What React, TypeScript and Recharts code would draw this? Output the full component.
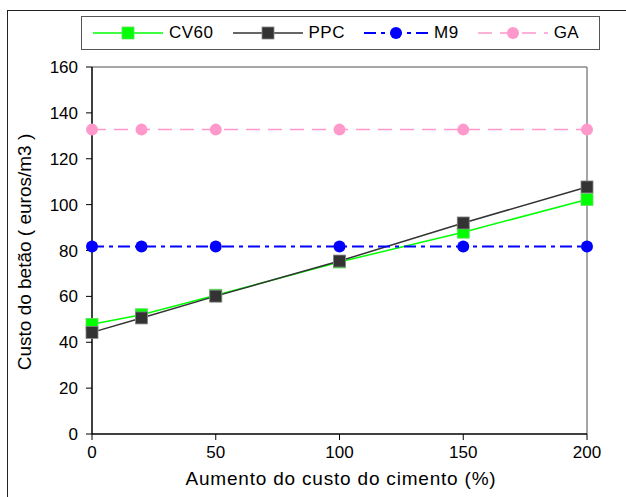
import React from 'react';
import { LineChart, Line, XAxis, YAxis, ReferenceLine } from 'recharts';

const xValues = [0, 20, 50, 100, 150, 200];
const cv60 = [47.8, 52, 60.5, 75, 88, 102.2];
const ppc = [44.3, 50.6, 60.1, 75.4, 92, 107.7];
const m9 = [81.7, 81.7, 81.7, 81.7, 81.7, 81.7];
const ga = [132.7, 132.7, 132.7, 132.7, 132.7, 132.7];
const seriesNames = ['CV60', 'PPC', 'M9', 'GA'];
const xTicks = [0, 50, 100, 150, 200];
const yTicks = [0, 20, 40, 60, 80, 100, 120, 140, 160];
const xTitle = 'Aumento do custo do cimento (%)';
const yTitle = 'Custo do betão ( euros/m3 )';

const data = xValues.map((x, i) => ({ x, CV60: cv60[i], PPC: ppc[i], M9: m9[i], GA: ga[i] }));

const FONT = '"Liberation Sans", Arial, sans-serif';

const styles: Record<string, { color: string; fill: string; dash?: string; width: number; marker: 'square' | 'circle'; stroke?: string; legendLen: number }> = {
  CV60: { color: '#00FF00', fill: '#00FF00', width: 1.5, marker: 'square', stroke: '#66dd66', legendLen: 70 },
  PPC: { color: '#333333', fill: '#333333', width: 1.5, marker: 'square', stroke: '#888888', legendLen: 70 },
  M9: { color: '#0000FF', fill: '#0000FF', dash: '12 5 4 5', width: 2, marker: 'circle', legendLen: 64 },
  GA: { color: '#FF99CC', fill: '#FF99CC', dash: '14 8', width: 1.5, marker: 'circle', legendLen: 70 },
};

const makeDot = (name: string) => (props: any) => {
  const { cx, cy, index } = props;
  const s = styles[name];
  if (cx == null || cy == null) return <g key={`${name}-${index}`} />;
  if (s.marker === 'square') {
    return (
      <rect key={`${name}-${index}`} x={cx - 6} y={cy - 6} width={12} height={12} fill={s.fill} stroke={s.stroke} strokeWidth={0.8} />
    );
  }
  return <circle key={`${name}-${index}`} cx={cx} cy={cy} r={6} fill={s.fill} />;
};

const LegendBox = () => (
  <div
    style={{
      position: 'absolute',
      left: 81,
      top: 16,
      width: 506,
      height: 32,
      border: '1.5px solid #555',
      background: '#fff',
      display: 'flex',
      alignItems: 'center',
      fontFamily: FONT,
      fontSize: 17,
      color: '#000',
      paddingLeft: 11,
      boxSizing: 'content-box',
    }}
  >
    {seriesNames.map((name, i) => {
      const s = styles[name];
      return (
        <div key={name} style={{ display: 'flex', alignItems: 'center', marginLeft: i === 0 ? 0 : 19 }}>
          <svg width={s.legendLen} height={16} style={{ display: 'block' }}>
            <line x1={0} y1={8} x2={s.legendLen} y2={8} stroke={s.color} strokeWidth={s.width} strokeDasharray={s.dash} />
            {s.marker === 'square' ? (
              <rect x={s.legendLen / 2 - 6} y={2} width={12} height={12} fill={s.fill} stroke={s.stroke} strokeWidth={0.8} />
            ) : (
              <circle cx={s.legendLen / 2} cy={8} r={6} fill={s.fill} />
            )}
          </svg>
          <span style={{ marginLeft: 6, letterSpacing: 0.5 }}>{name}</span>
        </div>
      );
    })}
  </div>
);

export default function App() {
  return (
    <div style={{ position: 'absolute', left: 0, top: 0, width: 626, height: 497, background: '#fff', overflow: 'hidden' }}>
      <div
        style={{
          position: 'absolute',
          left: 7,
          top: 10,
          width: 700,
          height: 600,
          border: '1.5px solid #222',
        }}
      />
      <div style={{ position: 'absolute', left: 0, top: 0 }}>
        <LineChart width={626} height={497} data={data} margin={{ top: 67, right: 39, left: 0, bottom: 0 }}>
          <XAxis
            dataKey="x"
            type="number"
            domain={[0, 200]}
            ticks={xTicks}
            height={63}
            axisLine={{ stroke: '#000', strokeWidth: 1.5 }}
            tickLine={{ stroke: '#000' }}
            tickSize={6}
            tickMargin={6}
            tick={{ fill: '#000', fontSize: 17, fontFamily: FONT }}
            label={{
              content: () => (
                <text x={341} y={478} textAnchor="middle" dominantBaseline="central" fontFamily={FONT} fontSize={19} fill="#000" letterSpacing={0.8}>
                  {xTitle}
                </text>
              ),
            }}
          />
          <YAxis
            type="number"
            domain={[0, 160]}
            ticks={yTicks}
            width={92}
            axisLine={{ stroke: '#000', strokeWidth: 1.5 }}
            tickLine={{ stroke: '#000' }}
            tickSize={6}
            tickMargin={8}
            tick={{ fill: '#000', fontSize: 17, fontFamily: FONT }}
            label={{
              content: () => (
                <text x={24} y={252} transform="rotate(-90 24 252)" textAnchor="middle" dominantBaseline="central" fontFamily={FONT} fontSize={19} fill="#000">
                  {yTitle}
                </text>
              ),
            }}
          />
          <ReferenceLine y={160} stroke="#888" strokeWidth={1.5} />
          <ReferenceLine x={200} stroke="#888" strokeWidth={1.5} />
          {seriesNames.map((name) => {
            const s = styles[name];
            return (
              <Line
                key={name}
                type="linear"
                dataKey={name}
                stroke={s.color}
                strokeWidth={s.width}
                strokeDasharray={s.dash}
                dot={makeDot(name)}
                activeDot={false}
                isAnimationActive={false}
              />
            );
          })}
        </LineChart>
      </div>
      <LegendBox />
    </div>
  );
}
